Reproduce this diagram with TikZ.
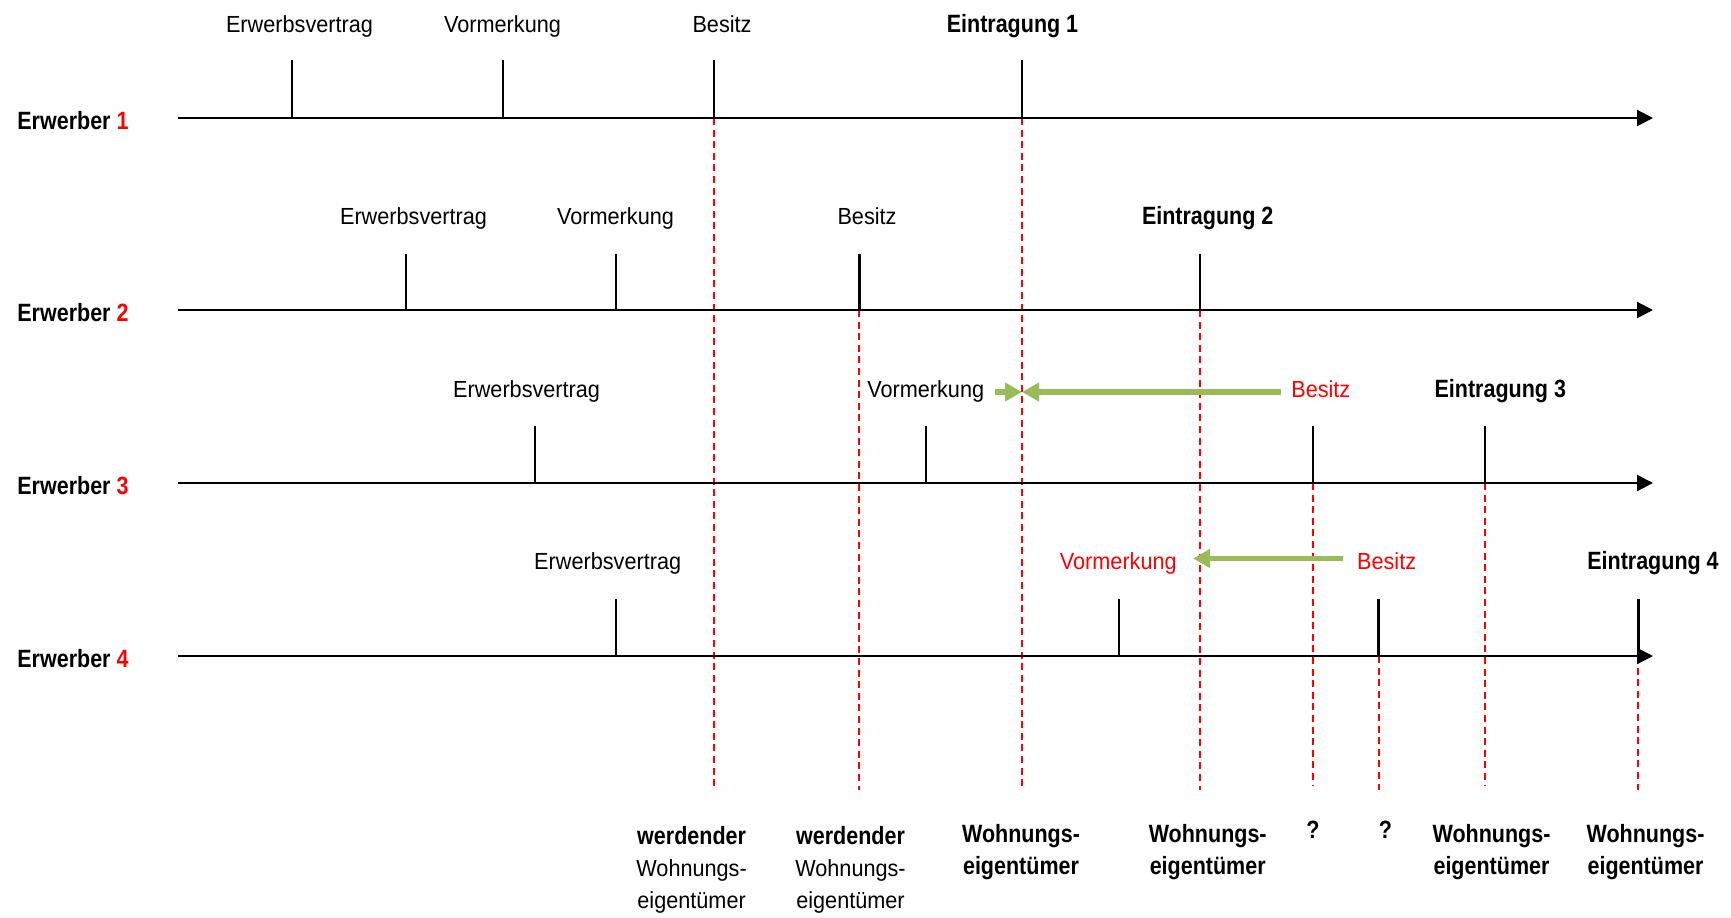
\documentclass[tikz,border=0pt]{standalone}
\usepackage{fontspec}
\usetikzlibrary{arrows.meta}
\newfontfamily\labreg{Liberation Sans}[FakeStretch=0.93]
\newfontfamily\labbold{Liberation Sans}[FakeStretch=0.86]
\definecolor{guidered}{RGB}{255,0,0}
\definecolor{leafgreen}{RGB}{155,187,89}
\tikzset{
  lbl/.style={inner sep=0pt, anchor=base, font=\labreg\fontsize{11.65}{16}\selectfont},
  blbl/.style={inner sep=0pt, anchor=base, font=\labbold\bfseries\fontsize{12.5}{16}\selectfont},
  rowlbl/.style={blbl, anchor=base west},
  timeaxis/.style={line width=1.1pt, -{Triangle[length=8pt,width=8pt]}},
  tickline/.style={line width=1pt},
  heavytick/.style={line width=1.5pt},
  guide/.style={draw=guidered, line width=1pt, dash pattern=on 3.5pt off 2.3pt},
  greenarrow/.style={draw=leafgreen, line width=2.8pt, -{Triangle[length=8.5pt,width=9pt,fill=leafgreen]}},
  botlbl/.style={lbl, align=center}
}
\begin{document}
\begin{tikzpicture}[x=0.5pt, y=-0.5pt]
\useasboundingbox (0,0) rectangle (1731,917);

% axes: start and end points
\coordinate (s1) at (178,118); \coordinate (e1) at (1653,118);
\coordinate (s2) at (178,310); \coordinate (e2) at (1653,310);
\coordinate (s3) at (178,483); \coordinate (e3) at (1653,483);
\coordinate (s4) at (178,656); \coordinate (e4) at (1653,656);

% event ticks on the axes
\coordinate (a1) at (291.5,118); \coordinate (b1) at (503,118); \coordinate (c1) at (714,118); \coordinate (d1) at (1022,118);
\coordinate (a2) at (406,310); \coordinate (b2) at (616,310); \coordinate (c2) at (859,310); \coordinate (d2) at (1200,310);
\coordinate (a3) at (535,483); \coordinate (b3) at (926,483); \coordinate (c3) at (1313,483); \coordinate (d3) at (1485,483);
\coordinate (a4) at (616,656); \coordinate (b4) at (1119,656); \coordinate (c4) at (1378.5,656); \coordinate (d4) at (1638,656);

% lower ends of the dashed guides
\coordinate (low) at (0,790);
\coordinate (lowb) at (0,785);

% dashed guides
\draw[guide] (c1) -- (c1 |- low);
\draw[guide] (d1) -- (d1 |- low);
\draw[guide] (c2) -- (c2 |- low);
\draw[guide] (d2) -- (d2 |- low);
\draw[guide] (c3) -- (c3 |- lowb);
\draw[guide] (d3) -- (d3 |- lowb);
\draw[guide] (c4) -- (c4 |- low);
\draw[guide] (d4) -- (d4 |- low);

% time axes
\draw[timeaxis] (s1) -- (e1);
\draw[timeaxis] (s2) -- (e2);
\draw[timeaxis] (s3) -- (e3);
\draw[timeaxis] (s4) -- (e4);

% ticks
\foreach \t in {a1,b1,c1,d1} \draw[tickline] (\t) -- ++(0,-58);
\foreach \t in {a2,b2,d2} \draw[tickline] (\t) -- ++(0,-56);
\draw[heavytick] (c2) -- ++(0,-56);
\foreach \t in {a3,b3,c3,d3} \draw[tickline] (\t) -- ++(0,-57);
\foreach \t in {a4,b4} \draw[tickline] (\t) -- ++(0,-57);
\draw[heavytick] (c4) -- ++(0,-57);
\draw[heavytick] (d4) -- ++(0,-57);

% row titles
\node[rowlbl] (r1) at (17,129) {Erwerber \textcolor{guidered}{1}};
\node[rowlbl] (r2) at (17,321) {Erwerber \textcolor{guidered}{2}};
\node[rowlbl] (r3) at (17,494) {Erwerber \textcolor{guidered}{3}};
\node[rowlbl] (r4) at (17,667) {Erwerber \textcolor{guidered}{4}};

% event labels, buyer 1
\node[lbl] (la1) at (299.5,32.5) {Erwerbsvertrag};
\node[lbl] (lb1) at (502.5,32.5) {Vormerkung};
\node[lbl] (lc1) at (722,32.5) {Besitz};
\node[blbl] (ld1) at (1012.5,32.5) {Eintragung 1};

% event labels, buyer 2
\node[lbl] (la2) at (413.5,224) {Erwerbsvertrag};
\node[lbl] (lb2) at (615.5,224) {Vormerkung};
\node[lbl] (lc2) at (867,224) {Besitz};
\node[blbl] (ld2) at (1207.7,224) {Eintragung 2};

% event labels, buyer 3
\node[lbl] (la3) at (526.6,397) {Erwerbsvertrag};
\node[lbl] (lb3) at (925.7,397) {Vormerkung};
\node[lbl, text=guidered] (lc3) at (1320.8,397) {Besitz};
\node[blbl] (ld3) at (1500.3,397) {Eintragung 3};

% event labels, buyer 4
\node[lbl] (la4) at (607.7,569) {Erwerbsvertrag};
\node[lbl, text=guidered] (lb4) at (1118.3,569) {Vormerkung};
\node[lbl, text=guidered] (lc4) at (1386.6,569) {Besitz};
\node[blbl] (ld4) at (1653,569) {Eintragung 4};

% shifted events
\coordinate (g3a) at (995,392);
\coordinate (g3t) at (1022,392);
\coordinate (g3b) at (1281,392);
\coordinate (g4a) at (1343,558.5);
\coordinate (g4t) at (1193,558.5);
\draw[greenarrow] (g3a) -- (g3t);
\draw[greenarrow] (g3b) -- (g3t);
\draw[greenarrow] (g4a) -- (g4t);

% status below the guides (anchored at the baseline of the last line)
\node[botlbl] (w1) at (691.6,908) {{\labbold\bfseries\fontsize{12.5}{16}\selectfont werdender}\\Wohnungs-\\eigentümer};
\node[botlbl] (w2) at (850.5,908) {{\labbold\bfseries\fontsize{12.5}{16}\selectfont werdender}\\Wohnungs-\\eigentümer};
\node[blbl, align=center] (w3) at (1021,874) {Wohnungs-\\eigentümer};
\node[blbl, align=center] (w4) at (1207.7,874) {Wohnungs-\\eigentümer};
\node[blbl] (q1) at (1313,838) {?};
\node[blbl] (q2) at (1385.5,838) {?};
\node[blbl, align=center] (w5) at (1491.5,874) {Wohnungs-\\eigentümer};
\node[blbl, align=center] (w6) at (1645.5,874) {Wohnungs-\\eigentümer};
\end{tikzpicture}
\end{document}
